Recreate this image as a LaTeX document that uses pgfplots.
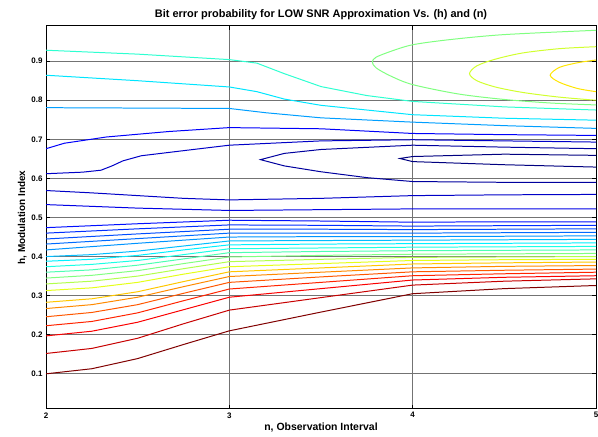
\documentclass[border=0pt]{standalone}
\usepackage{pgfplots}
\pgfplotsset{compat=1.18}
\usepackage{fontspec}
\setmainfont{Liberation Sans}
\definecolor{L1}{rgb}{0.5,0,0}
\definecolor{L2}{rgb}{0.78,0,0}
\definecolor{L3}{rgb}{0.98,0,0}
\definecolor{L4}{rgb}{1,0.14,0}
\definecolor{L5}{rgb}{1,0.34,0}
\definecolor{L6}{rgb}{1,0.54,0}
\definecolor{L7}{rgb}{1,0.78,0}
\definecolor{L8}{rgb}{0.9,1,0.1}
\definecolor{L9}{rgb}{0.7,1,0.3}
\definecolor{L10}{rgb}{0.5,1,0.5}
\definecolor{L11}{rgb}{0.3,1,0.7}
\definecolor{L12}{rgb}{0.1,1,0.9}
\definecolor{L13}{rgb}{0,0.94,1}
\definecolor{L14}{rgb}{0,0.74,1}
\definecolor{L15}{rgb}{0,0.58,1}
\definecolor{L16}{rgb}{0,0.42,1}
\definecolor{L17}{rgb}{0,0.3,1}
\definecolor{L18}{rgb}{0,0.18,1}
\definecolor{L19}{rgb}{0,0.06,1}
\definecolor{LH}{rgb}{0,0,0.9}
\definecolor{LG}{rgb}{0,0,0.78}
\definecolor{LF}{rgb}{0,0,0.62}
\definecolor{LI}{rgb}{0,0,0.5}
\definecolor{LD}{rgb}{0,0,0.98}
\definecolor{LC}{rgb}{0,0.62,1}
\definecolor{LB}{rgb}{0,0.9,1}
\definecolor{LA}{rgb}{0.18,1,0.82}
\definecolor{LGr}{rgb}{0.5,1,0.5}
\definecolor{LYG}{rgb}{0.82,1,0.18}
\definecolor{LY}{rgb}{1,0.9,0}
\begin{document}
\begin{tikzpicture}
\begin{axis}[
  scale only axis, width=550bp, height=383bp,
  xmin=2, xmax=5, ymin=0.01, ymax=0.99,
  xtick={2,3,4,5},
  ytick={0.1,0.2,0.3,0.4,0.5,0.6,0.7,0.8,0.9},
  /pgf/number format/.cd, fixed, precision=1, fixed zerofill, assume math mode=true,
  /pgfplots/.cd,
  xticklabel style={/pgf/number format/precision=0, /pgf/number format/fixed zerofill=false},
  tick label style={font=\fontsize{8}{9}\selectfont\bfseries},
  xlabel style={font=\fontsize{10.5}{12}\selectfont\bfseries, yshift=2pt},
  ylabel style={font=\fontsize{10}{12}\selectfont\bfseries, yshift=-2pt},
  title style={font=\fontsize{11}{12}\selectfont\bfseries, yshift=-3pt},
  title={Bit error probability for LOW SNR Approximation Vs. (h) and (n)},
  xlabel={n, Observation Interval},
  ylabel={h, Modulation Index},
  grid=major, major grid style={black!55, line width=0.7pt},
  tick align=inside, major tick length=4pt,
  tick style={black, line width=0.8pt},
  axis line style={black, line width=1pt},
  no markers,
  every axis plot/.append style={line width=1pt},
]
% lower family of contour lines (bottom, dark red, up to blue)
\addplot[L1] coordinates {(2,0.100)(2.25,0.113)(2.5,0.139)(2.75,0.175)(3,0.210)(3.5,0.258)(4,0.305)(4.5,0.318)(5,0.326)};
\addplot[L2] coordinates {(2,0.152)(2.25,0.165)(2.5,0.191)(2.75,0.228)(3,0.263)(3.5,0.295)(4,0.327)(4.5,0.337)(5,0.343)};
\addplot[L3] coordinates {(2,0.197)(2.25,0.209)(2.5,0.232)(2.75,0.264)(3,0.296)(3.5,0.318)(4,0.340)(4.5,0.347)(5,0.351)};
\addplot[L4] coordinates {(2,0.223)(2.25,0.234)(2.5,0.256)(2.75,0.287)(3,0.317)(3.5,0.334)(4,0.351)(4.5,0.356)(5,0.360)};
\addplot[L5] coordinates {(2,0.246)(2.25,0.257)(2.5,0.277)(2.75,0.306)(3,0.334)(3.5,0.348)(4,0.361)(4.5,0.365)(5,0.368)};
\addplot[L6] coordinates {(2,0.267)(2.25,0.277)(2.5,0.296)(2.75,0.323)(3,0.349)(3.5,0.360)(4,0.371)(4.5,0.375)(5,0.377)};
\addplot[L7] coordinates {(2,0.283)(2.25,0.292)(2.5,0.310)(2.75,0.336)(3,0.361)(3.5,0.371)(4,0.381)(4.5,0.384)(5,0.386)};
\addplot[L8] coordinates {(2,0.313)(2.25,0.320)(2.5,0.334)(2.75,0.355)(3,0.374)(3.5,0.382)(4,0.390)(4.5,0.392)(5,0.393)};
\addplot[L9] coordinates {(2,0.330)(2.25,0.337)(2.5,0.350)(2.75,0.369)(3,0.387)(3.5,0.393)(4,0.398)(4.5,0.399)(5,0.400)};
\addplot[L10] coordinates {(2,0.345)(2.25,0.352)(2.5,0.364)(2.75,0.382)(3,0.399)(3.5,0.403)(4,0.406)(4.5,0.407)(5,0.408)};
\addplot[L11] coordinates {(2,0.360)(2.25,0.366)(2.5,0.378)(2.75,0.394)(3,0.410)(3.5,0.413)(4,0.415)(4.5,0.416)(5,0.417)};
\addplot[L12] coordinates {(2,0.374)(2.25,0.380)(2.5,0.390)(2.75,0.405)(3,0.420)(3.5,0.422)(4,0.424)(4.5,0.425)(5,0.426)};
\addplot[L13] coordinates {(2,0.388)(2.25,0.393)(2.5,0.403)(2.75,0.417)(3,0.430)(3.5,0.432)(4,0.433)(4.5,0.434)(5,0.435)};
\addplot[L14] coordinates {(2,0.400)(2.25,0.405)(2.5,0.414)(2.75,0.427)(3,0.440)(3.5,0.441)(4,0.442)(4.5,0.443)(5,0.444)};
\addplot[L15] coordinates {(2,0.417)(2.5,0.434)(3,0.450)(3.5,0.451)(4,0.451)(4.5,0.452)(5,0.453)};
\addplot[L16] coordinates {(2,0.432)(2.5,0.446)(3,0.460)(3.5,0.460)(4,0.460)(4.5,0.461)(5,0.462)};
\addplot[L17] coordinates {(2,0.445)(2.5,0.458)(3,0.470)(3.5,0.470)(4,0.469)(4.5,0.470)(5,0.471)};
\addplot[L18] coordinates {(2,0.460)(2.5,0.471)(3,0.481)(3.5,0.480)(4,0.478)(4.5,0.479)(5,0.480)};
\addplot[L19] coordinates {(2,0.474)(2.5,0.484)(3,0.493)(3.5,0.491)(4,0.488)(4.5,0.489)(5,0.489)};
\addplot[LH] coordinates {(2,0.533)(2.5,0.524)(3,0.518)(3.5,0.520)(4,0.522)(4.5,0.522)(5,0.522)};
\addplot[LG] coordinates {(2,0.569)(2.25,0.563)(2.5,0.556)(2.75,0.549)(3,0.545)(3.5,0.549)(4,0.556)(4.5,0.558)(5,0.559)};
% basin around the minimum
\addplot[LI] coordinates {(5,0.659)(4.5,0.662)(4,0.656)(3.93,0.651)(4,0.643)(4.5,0.635)(5,0.629)};
\addplot[LF] coordinates {(5,0.676)(4.5,0.680)(4,0.685)(3.5,0.674)(3.3,0.664)(3.17,0.648)(3.3,0.632)(3.5,0.617)(3.75,0.602)(4,0.592)(4.5,0.590)(5,0.590)};
\addplot[LG] coordinates {(2,0.612)(2.2,0.616)(2.3,0.621)(2.36,0.632)(2.42,0.645)(2.52,0.658)(2.75,0.671)(3,0.685)(3.5,0.696)(4,0.699)(4.5,0.696)(5,0.693)};
\addplot[LD] coordinates {(2,0.676)(2.1,0.690)(2.33,0.706)(2.67,0.720)(3,0.730)(3.5,0.727)(4,0.715)(4.5,0.712)(5,0.710)};
% upper family
\addplot[LC] coordinates {(2,0.781)(2.5,0.780)(3,0.779)(3.2,0.768)(3.5,0.755)(4,0.744)(4.5,0.735)(5,0.728)};
\addplot[LB] coordinates {(2,0.864)(2.5,0.850)(3,0.834)(3.15,0.822)(3.3,0.803)(3.5,0.787)(4,0.763)(4.5,0.754)(5,0.749)};
\addplot[LA] coordinates {(2,0.928)(2.5,0.918)(3,0.904)(3.15,0.895)(3.3,0.868)(3.5,0.835)(3.75,0.812)(4,0.797)(4.5,0.783)(5,0.775)};
% closed curves at top right
\addplot[LGr, smooth, tension=0.5] coordinates {(5,0.979)(4.5,0.968)(4.2,0.955)(4,0.942)(3.88,0.925)(3.8,0.91)(3.78,0.898)(3.8,0.883)(3.88,0.862)(4,0.840)(4.25,0.816)(4.5,0.802)(4.75,0.793)(5,0.788)};
\addplot[LYG, smooth, tension=0.5] coordinates {(5,0.937)(4.8,0.932)(4.6,0.921)(4.45,0.905)(4.35,0.888)(4.31,0.868)(4.35,0.850)(4.45,0.834)(4.6,0.820)(4.8,0.808)(5,0.800)};
\addplot[LY, smooth, tension=0.5] coordinates {(5,0.903)(4.9,0.896)(4.8,0.884)(4.75,0.864)(4.8,0.846)(4.9,0.830)(5,0.822)};
\end{axis}
\pgfresetboundingbox
\path ([shift={(-46bp,-28bp)}]current axis.south west) rectangle ([shift={(2bp,26bp)}]current axis.north east);
\end{tikzpicture}
\end{document}
